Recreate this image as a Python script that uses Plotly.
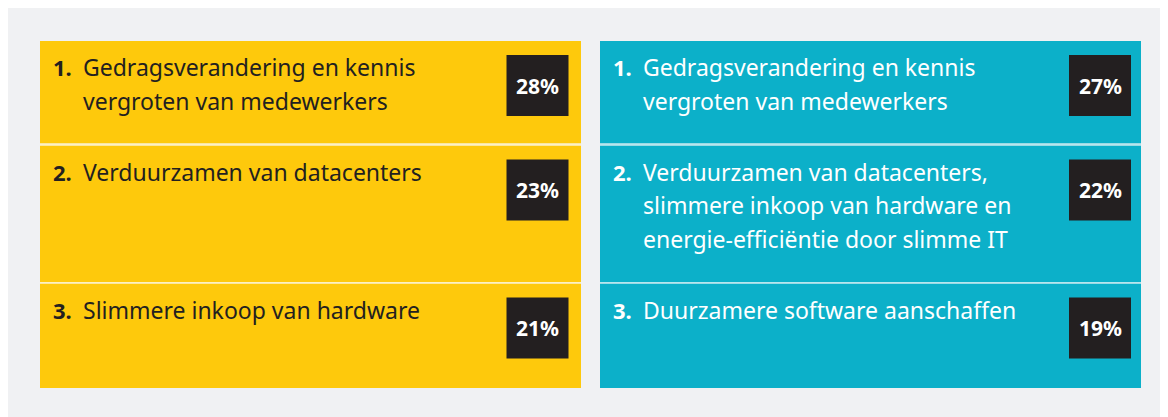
import plotly.graph_objects as go

# ---- data ----
left_ranks = ["1.", "2.", "3."]
left_items = [
    ["Gedragsverandering en kennis", "vergroten van medewerkers"],
    ["Verduurzamen van datacenters"],
    ["Slimmere inkoop van hardware"],
]
left_values = [28, 23, 21]

right_ranks = ["1.", "2.", "3."]
right_items = [
    ["Gedragsverandering en kennis", "vergroten van medewerkers"],
    ["Verduurzamen van datacenters,", "slimmere inkoop van hardware en", "energie-efficiëntie door slimme IT"],
    ["Duurzamere software aanschaffen"],
]
right_values = [27, 22, 19]

# ---- layout constants (page pixel coordinates) ----
PAGE_W, PAGE_H = 1168, 417
OFF = 8  # browser body margin
BG = "#f0f1f3"
YELLOW = "#fec90c"
TEAL = "#0cb0c9"
DARK = "#231f20"
FONT = "Noto Sans"

row_tops = [41, 145.5, 283.5]
row_bots = [143.5, 282, 388]

panels = [
    dict(x0=40, x1=581, box_x1=568.5, color=YELLOW, txt=DARK, ranks=left_ranks, items=left_items,
         values=left_values, sep="#fdf1c4"),
    dict(x0=600, x1=1141, box_x1=1131, color=TEAL, txt="#ffffff", ranks=right_ranks, items=right_items,
         values=right_values, sep="#b8e6ee"),
]

fig = go.Figure()
shapes = []
annotations = []

for p in panels:
    for i in range(3):
        top, bot = row_tops[i], row_bots[i]
        shapes.append(dict(type="rect", xref="x", yref="y", x0=p["x0"], x1=p["x1"], y0=top, y1=bot,
                           fillcolor=p["color"], line=dict(width=0), layer="below"))
        if i > 0:
            shapes.append(dict(type="rect", xref="x", yref="y", x0=p["x0"], x1=p["x1"],
                               y0=row_bots[i - 1], y1=top,
                               fillcolor=p["sep"], line=dict(width=0), layer="below"))
        # rank number
        annotations.append(dict(x=p["x0"] + 10.5, y=top + 26, xref="x", yref="y",
                                text="<b>" + p["ranks"][i] + "</b>", showarrow=False,
                                xanchor="left", yanchor="middle",
                                font=dict(family=FONT, size=22, color=p["txt"])))
        # text lines
        for j, line in enumerate(p["items"][i]):
            annotations.append(dict(x=p["x0"] + 40.5, y=top + 26 + j * 33.5, xref="x", yref="y",
                                    text=line, showarrow=False, xanchor="left", yanchor="middle",
                                    font=dict(family=FONT, size=23, color=p["txt"])))
        # value box
        bx1 = p["box_x1"]
        bx0 = bx1 - 62
        shapes.append(dict(type="rect", xref="x", yref="y", x0=bx0, x1=bx1,
                           y0=top + 14, y1=top + 75,
                           fillcolor=DARK, line=dict(width=0)))
        annotations.append(dict(x=(bx0 + bx1) / 2, y=top + 44.5, xref="x", yref="y",
                                text="<b>%d%%</b>" % p["values"][i], showarrow=False,
                                xanchor="center", yanchor="middle",
                                font=dict(family=FONT, size=21, color="#ffffff")))

fig.update_layout(
    width=PAGE_W - OFF, height=PAGE_H - OFF,
    margin=dict(l=0, r=0, t=0, b=0),
    paper_bgcolor=BG, plot_bgcolor=BG,
    shapes=shapes, annotations=annotations,
    xaxis=dict(range=[OFF, PAGE_W], visible=False, fixedrange=True),
    yaxis=dict(range=[PAGE_H, OFF], visible=False, fixedrange=True),
    showlegend=False,
)

fig.write_html("out.html", config={"displayModeBar": False})
